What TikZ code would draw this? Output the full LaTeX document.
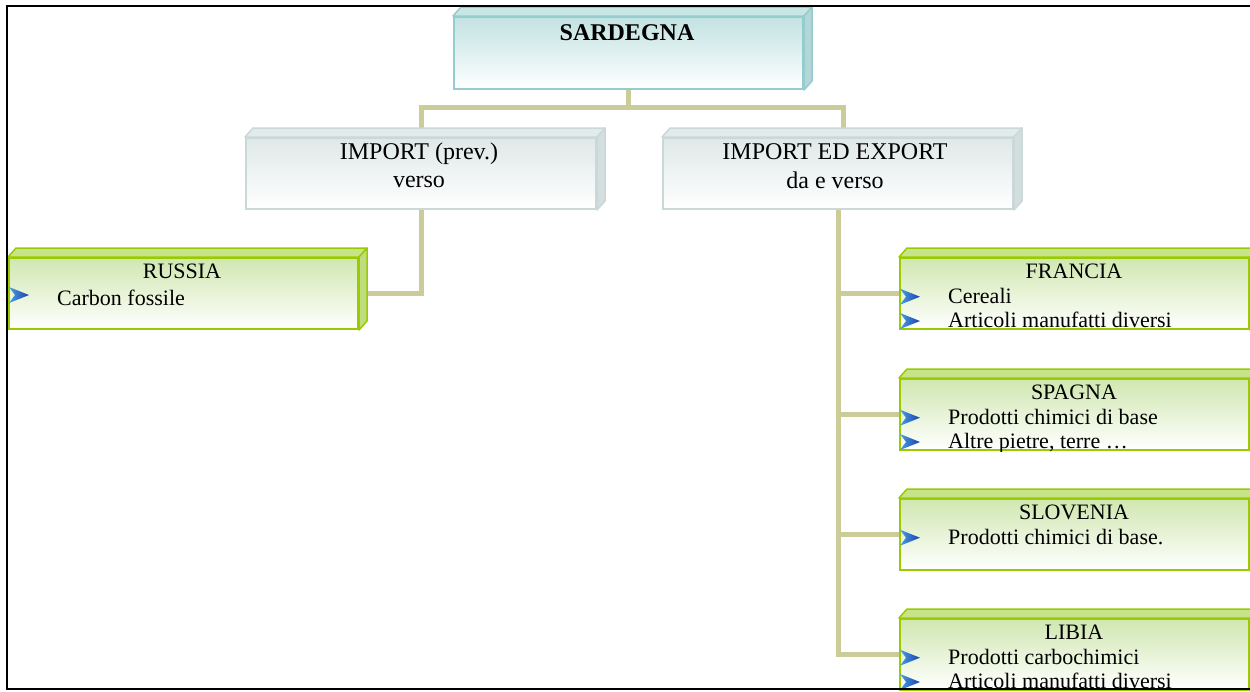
\documentclass[tikz,border=0pt]{standalone}
\usepackage{fontspec}
\setmainfont{Liberation Serif}
\usetikzlibrary{calc}
\definecolor{conncol}{HTML}{CCCC99}
\definecolor{tealedge}{HTML}{93CDCD}
\definecolor{tealtop}{HTML}{C3E2E2}
\definecolor{tealside}{HTML}{B5D6D6}
\definecolor{tealface}{HTML}{C9E6E6}
\definecolor{grayedge}{HTML}{CAD8D8}
\definecolor{graytop}{HTML}{DFE8E8}
\definecolor{grayside}{HTML}{D3DEDE}
\definecolor{grayface}{HTML}{E2EBEB}
\definecolor{greenedge}{HTML}{99CC00}
\definecolor{greentop}{HTML}{D0E7B0}
\definecolor{greenside}{HTML}{BFDD7F}
\definecolor{greenface}{HTML}{C8E48A}
\definecolor{chevdark}{HTML}{1A3FB0}
\definecolor{chevlight}{HTML}{4A9FE0}
\newcommand\boxfaces[4]{%
  \filldraw[fill=#3,draw=#2,line width=1.5pt,line join=round]
    (#1.north west) -- ($(#1.north west)+(8,-9)$) -- ($(#1.north east)+(8,-9)$) -- (#1.north east) -- cycle;
  \filldraw[fill=#4,draw=#2,line width=1.5pt,line join=round]
    (#1.north east) -- ($(#1.north east)+(8,-9)$) -- ($(#1.south east)+(8,-9)$) -- (#1.south east) -- cycle;
}
\begin{document}
\begin{tikzpicture}[x=1pt,y=-1pt,
  frontbox/.style={anchor=north west, minimum width=349pt, minimum height=71pt, inner sep=0pt, line width=2pt, bottom color=white},
  tealbox/.style={frontbox, draw=tealedge, top color=tealtop, minimum height=72pt},
  graybox/.style={frontbox, draw=grayedge, top color=graytop, minimum width=350pt},
  greenbox/.style={frontbox, draw=greenedge, top color=greentop},
  conn/.style={draw=conncol, line width=5pt},
  ttl/.style={font=\fontsize{24}{28}\selectfont, anchor=base, inner sep=0pt},
  ctl/.style={font=\fontsize{22}{26}\selectfont, anchor=base, inner sep=0pt},
  itm/.style={font=\fontsize{22}{26}\selectfont, anchor=base west, inner sep=0pt},
  chev/.pic={\shade[left color=chevlight, right color=chevdark] (0,-8) -- (20,0) -- (0,8) -- (6,0) -- cycle;}
]
\useasboundingbox (0,0) rectangle (1250,691);
\clip (0,0) rectangle (1250,691);
\fill[white] (0,0) rectangle (1250,691);

% boxes (positions)
\path
  node[tealbox] (sard) at (453,16) {}
  node[graybox] (imp) at (245,137) {}
  node[graybox] (iee) at (662,137) {}
  node[greenbox] (rus) at (8,257) {}
  node[greenbox] (fra) at (899,257) {}
  node[greenbox] (spa) at (899,378) {}
  node[greenbox] (slo) at (899,498) {}
  node[greenbox] (lib) at (899,618) {};

% connectors
\draw[conn] (sard.south) -- ++(0,17) -| (imp.north);
\draw[conn] (sard.south) -- ++(0,17) -| ([xshift=5pt]iee.north);
\draw[conn] (imp.south) |- ([xshift=8pt]rus.east);
\draw[conn] (iee.south) |- (lib.west);
\draw[conn] (iee.south |- fra.west) -- (fra.west);
\draw[conn] (iee.south |- spa.west) -- (spa.west);
\draw[conn] (iee.south |- slo.west) -- (slo.west);

% redraw boxes on top of connectors
\path
  node[tealbox] (sardf) at (453,16) {}
  node[graybox] (impf) at (245,137) {}
  node[graybox] (ieef) at (662,137) {}
  node[greenbox] (rusf) at (8,257) {}
  node[greenbox] (fraf) at (899,257) {}
  node[greenbox] (spaf) at (899,378) {}
  node[greenbox] (slof) at (899,498) {}
  node[greenbox] (libf) at (899,618) {};
\boxfaces{sardf}{tealedge}{tealface}{tealside}
\boxfaces{impf}{grayedge}{grayface}{grayside}
\boxfaces{ieef}{grayedge}{grayface}{grayside}
\boxfaces{rusf}{greenedge}{greenface}{greenside}
\boxfaces{fraf}{greenedge}{greenface}{greenside}
\boxfaces{spaf}{greenedge}{greenface}{greenside}
\boxfaces{slof}{greenedge}{greenface}{greenside}
\boxfaces{libf}{greenedge}{greenface}{greenside}

% texts
\node[ttl, font=\bfseries\fontsize{24}{28}\selectfont] (tsard) at (627,40.5) {SARDEGNA};
\node[ttl] (timp1) at (419,159.3) {IMPORT (prev.)};
\node[ttl] (timp2) at (419,187.7) {verso};
\node[ttl] (tiee1) at (835,159.3) {IMPORT ED EXPORT};
\node[ttl] (tiee2) at (835,188) {da e verso};

\node[ctl] (trus) at (182,278.3) {RUSSIA};
\pic at (9,295) {chev};
\node[itm] (irus) at (57,305) {Carbon fossile};

\begin{scope}
\clip (fra.north west) rectangle (fra.south east);
\node[ctl] (tfra) at (1074,278.3) {FRANCIA};
\pic at (900,296.7) {chev};
\node[itm] (ifra1) at (948,303.3) {Cereali};
\pic at (900,321) {chev};
\node[itm] (ifra2) at (948,327.3) {Articoli manufatti diversi};
\end{scope}

\begin{scope}
\clip (spa.north west) rectangle (spa.south east);
\node[ctl] (tspa) at (1074,399.3) {SPAGNA};
\pic at (900,417.7) {chev};
\node[itm] (ispa1) at (948,424.3) {Prodotti chimici di base};
\pic at (900,442) {chev};
\node[itm] (ispa2) at (948,448.3) {Altre pietre, terre \dots};
\end{scope}

\begin{scope}
\clip (slo.north west) rectangle (slo.south east);
\node[ctl] (tslo) at (1074,519.3) {SLOVENIA};
\pic at (900,537.7) {chev};
\node[itm] (islo1) at (948,544.3) {Prodotti chimici di base.};
\end{scope}

\begin{scope}
\clip (lib.north west) rectangle (lib.south east);
\node[ctl] (tlib) at (1074,639.3) {LIBIA};
\pic at (900,657.7) {chev};
\node[itm] (ilib1) at (948,664.3) {Prodotti carbochimici};
\pic at (900,682) {chev};
\node[itm] (ilib2) at (948,688.3) {Articoli manufatti diversi};
\end{scope}

% page frame
\draw[line width=2pt] (1250,6) -- (7,6) -- (7,689) -- (1250,689);
\end{tikzpicture}
\end{document}
